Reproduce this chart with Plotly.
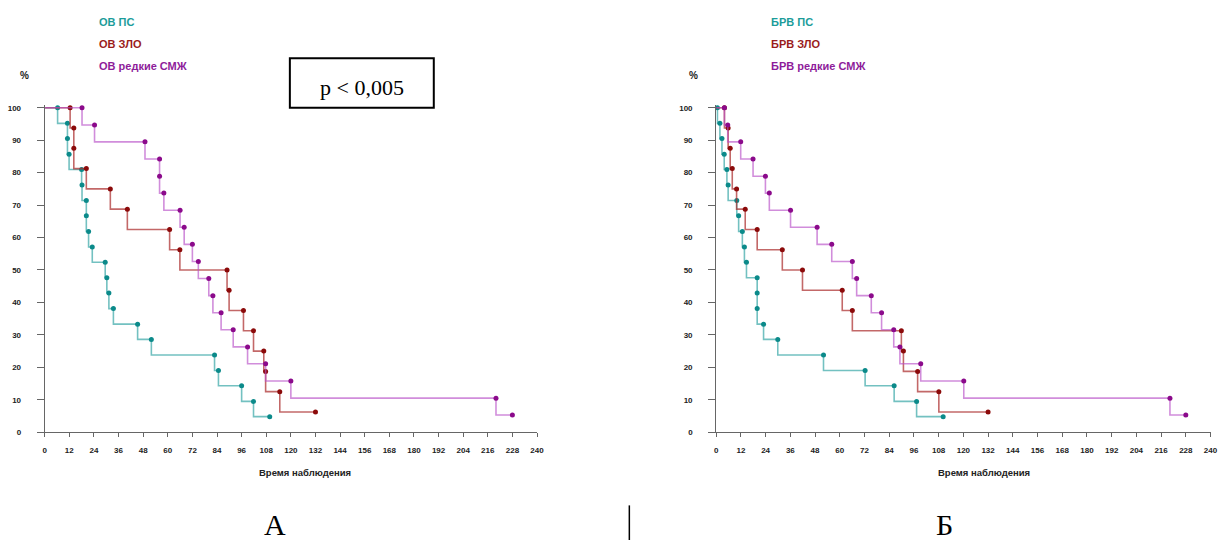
import plotly.graph_objects as go

W, H = 1220, 545

# ---------------- data ----------------
month_ticks = list(range(0, 241, 12))
pct_ticks = list(range(0, 101, 10))

# Panel A (ОВ)
a_ps_t = [6.3, 11.1, 11.1, 11.9, 18.0, 18.2, 20.3, 20.3, 21.4, 23.2, 29.5, 30.3, 31.3, 33.5,
          45.3, 52.0, 82.8, 84.7, 96.0, 101.8, 109.7]
a_ps_s = [100, 95.2, 90.5, 85.7, 81.0, 76.2, 71.4, 66.7, 61.9, 57.1, 52.4, 47.6, 42.9, 38.1,
          33.3, 28.6, 23.8, 19.0, 14.3, 9.5, 4.8]

a_zlo_t = [12.4, 14.2, 14.2, 20.3, 32.0, 40.3, 60.9, 65.9, 88.9, 89.9, 96.9, 101.8, 106.8,
           107.7, 114.6, 132.0]
a_zlo_s = [100, 93.75, 87.5, 81.25, 75.0, 68.75, 62.5, 56.25, 50.0, 43.75, 37.5, 31.25, 25.0,
           18.75, 12.5, 6.25]

a_smj_t = [18.2, 24.3, 48.9, 56.0, 56.0, 58.1, 66.0, 68.0, 72.0, 74.9, 80.0, 82.0, 86.0, 91.9,
           98.9, 107.7, 120.0, 220.0, 228.0]
a_smj_s = [100, 94.7, 89.5, 84.2, 78.9, 73.7, 68.4, 63.2, 57.9, 52.6, 47.4, 42.1, 36.8, 31.6,
           26.3, 21.1, 15.8, 10.5, 5.3]

# Panel Б (БРВ)
b_ps_t = [0.6, 1.8, 2.8, 3.9, 5.2, 5.8, 10.0, 10.9, 12.7, 13.7, 14.7, 19.9, 19.9, 19.9, 23.0,
          29.9, 52.1, 72.3, 86.4, 97.3, 110.2]
b_ps_s = [100, 95.2, 90.5, 85.7, 81.0, 76.2, 71.4, 66.7, 61.9, 57.1, 52.4, 47.6, 42.9, 38.1,
          33.3, 28.6, 23.8, 19.0, 14.3, 9.5, 4.8]

b_zlo_t = [4.0, 5.8, 6.8, 7.8, 9.9, 14.1, 19.9, 32.1, 41.9, 61.2, 66.1, 89.9, 90.9, 97.8,
           108.1, 132.0]
b_zlo_s = [100, 93.75, 87.5, 81.25, 75.0, 68.75, 62.5, 56.25, 50.0, 43.75, 37.5, 31.25, 25.0,
           18.75, 12.5, 6.25]

b_smj_t = [4.0, 5.6, 11.9, 17.9, 23.9, 25.8, 36.1, 49.0, 56.1, 66.1, 68.2, 75.3, 80.3, 86.2,
           89.2, 99.3, 120.2, 220.3, 228.0]
b_smj_s = [100, 94.7, 89.5, 84.2, 78.9, 73.7, 68.4, 63.2, 57.9, 52.6, 47.4, 42.1, 36.8, 31.6,
           26.3, 21.1, 15.8, 10.5, 5.3]

labels_a = ["ОВ ПС", "ОВ ЗЛО", "ОВ редкие СМЖ"]
labels_b = ["БРВ ПС", "БРВ ЗЛО", "БРВ редкие СМЖ"]

# ---------------- styles ----------------
line_cols = ["rgba(40,160,160,0.65)", "rgba(170,40,40,0.7)", "rgba(185,80,200,0.65)"]
mark_cols = ["#0b8a8a", "#8b0a0a", "#8b0a8b"]
text_cols = ["#1c9c9a", "#9a1c1c", "#8e1c9a"]


def px(x):
    return x / W


def py(y):
    return 1 - y / H


fig = go.Figure()

panels = [
    ("x", "y", [(a_ps_t, a_ps_s), (a_zlo_t, a_zlo_s), (a_smj_t, a_smj_s)]),
    ("x2", "y2", [(b_ps_t, b_ps_s), (b_zlo_t, b_zlo_s), (b_smj_t, b_smj_s)]),
]
for xa, ya, series in panels:
    for i, (t, s) in enumerate(series):
        fig.add_trace(go.Scatter(
            x=[0] + t, y=[100] + s, mode="lines", line_shape="vh",
            line=dict(color=line_cols[i], width=1.6),
            xaxis=xa, yaxis=ya, showlegend=False, hoverinfo="skip"))
        fig.add_trace(go.Scatter(
            x=t, y=s, mode="markers", cliponaxis=False,
            marker=dict(color=mark_cols[i], size=5, symbol="circle"),
            xaxis=xa, yaxis=ya, showlegend=False))

tickfont = dict(family="Liberation Sans, Arial", size=8, color="#222", weight="bold")
xcommon = dict(range=[0, 240], tickvals=month_ticks, ticktext=[str(v) for v in month_ticks],
               ticks="outside", ticklen=4, tickcolor="#666", showline=True, linecolor="#666",
               linewidth=1, showgrid=False, zeroline=False, tickfont=tickfont, fixedrange=True,
               ticklabelstandoff=6)
ycommon = dict(range=[0, 101], tickvals=pct_ticks, ticktext=[str(v) for v in pct_ticks],
               ticks="outside", ticklen=7, tickcolor="#666", showline=True, linecolor="#666",
               linewidth=1, showgrid=False, zeroline=False, tickfont=tickfont,
               domain=[py(436), py(104.7)], fixedrange=True, ticklabelstandoff=14)

fig.update_layout(
    width=W, height=H, margin=dict(l=0, r=0, t=0, b=0),
    paper_bgcolor="white", plot_bgcolor="white",
    xaxis=dict(domain=[px(43), px(539)], anchor="y", **xcommon),
    yaxis=dict(anchor="x", **ycommon),
    xaxis2=dict(domain=[px(719.5), px(1217.5)], anchor="y2", **xcommon),
    yaxis2=dict(anchor="x2", **ycommon),
)

ann = []
legfont = dict(family="Liberation Sans, Arial", size=11, weight="bold")
for x0, labs in [(96, labels_a), (773, labels_b)]:
    for i, lab in enumerate(labs):
        ann.append(dict(x=px(x0), y=py([21, 43, 66][i]), xref="paper", yref="paper",
                        text=lab, showarrow=False, xanchor="left", yanchor="middle",
                        font=dict(color=text_cols[i], **legfont)))
for xc in (23, 697):
    ann.append(dict(x=px(xc), y=py(75), xref="paper", yref="paper", text="%",
                    showarrow=False, xanchor="center", yanchor="middle",
                    font=dict(family="Liberation Sans, Arial", size=10, color="#222", weight="bold")))
for xc in (305, 989):
    ann.append(dict(x=px(xc), y=py(477), xref="paper", yref="paper", text="Время наблюдения",
                    showarrow=False, xanchor="center", yanchor="middle",
                    font=dict(family="Liberation Sans, Arial", size=9.5, color="#222", weight="bold")))
ann.append(dict(x=px(362.5), y=py(87), xref="paper", yref="paper", text="p &lt; 0,005",
                showarrow=False, xanchor="center", yanchor="middle",
                font=dict(family="Liberation Serif, Times New Roman", size=22, color="black")))
for xc, lab in [(275, "А"), (950, "Б")]:
    ann.append(dict(x=px(xc), y=py(529), xref="paper", yref="paper", text=lab,
                    showarrow=False, xanchor="center", yanchor="middle",
                    font=dict(family="Liberation Serif, Times New Roman", size=30, color="black")))
fig.update_layout(annotations=ann)

fig.add_shape(type="rect", xref="paper", yref="paper", x0=px(290), x1=px(435),
              y0=py(108), y1=py(58), line=dict(color="black", width=2))
fig.add_shape(type="line", xref="paper", yref="paper", x0=px(632), x1=px(632),
              y0=py(545), y1=py(510), line=dict(color="black", width=1.5))

fig.write_html("out.html")
